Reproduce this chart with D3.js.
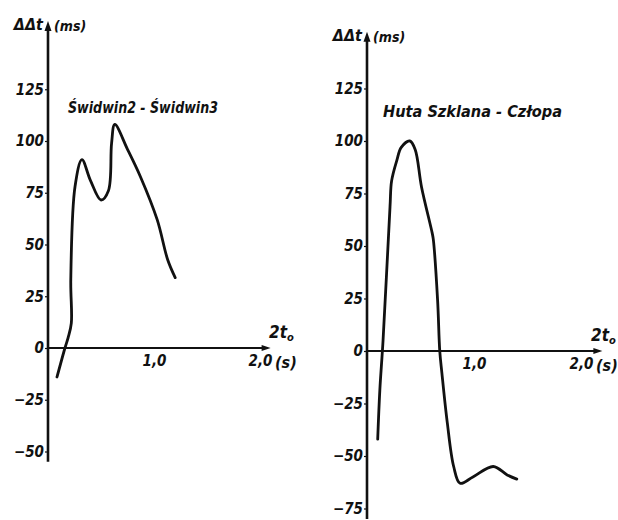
<!DOCTYPE html>
<html>
<head>
<meta charset="utf-8">
<script src="https://cdn.jsdelivr.net/npm/d3@7"></script>
<style>
  body { margin: 0; background: #fff; }
  svg text { font-family: "DejaVu Sans Condensed", "Liberation Sans Narrow", "DejaVu Sans", sans-serif; font-style: italic; fill: #111; }
</style>
</head>
<body>
<svg id="chart" width="618" height="520"></svg>
<script>
// values (time in s, delta in ms)
var leftTitle = "Świdwin2 - Świdwin3";
var rightTitle = "Huta Szklana - Człopa";
var leftTicksY = [125, 100, 75, 50, 25, 0, -25, -50];
var rightTicksY = [125, 100, 75, 50, 25, 0, -25, -50, -75];
var ticksX = [1.0, 2.0];
var tickLabelsX = ["1,0", "2,0"];

var leftT = [0.085, 0.16, 0.19, 0.22, 0.215, 0.255, 0.32, 0.40, 0.50, 0.57, 0.60, 0.63, 0.75, 0.87, 1.03, 1.13, 1.20];
var leftD = [-14, 0, 5, 12, 33, 78, 91, 81, 71.5, 76, 99, 108, 96, 83, 62, 42.5, 34];

var rightT = [0.10, 0.12, 0.15, 0.215, 0.23, 0.28, 0.32, 0.40, 0.45, 0.51, 0.61, 0.62, 0.66, 0.68, 0.70, 0.75, 0.81, 0.87, 0.99, 1.18, 1.31, 1.40];
var rightD = [-42, -18.6, 5, 68.6, 81, 91, 97, 100, 96, 78, 56, 53, 24, 0, -10.5, -34, -55, -63, -60, -55, -59, -61];

function main() {
  var svg = d3.select("#chart");

  function drawPanel(p) {
    var x = d3.scaleLinear().domain([0, 2]).range([p.x0, p.x0 + 2 * p.pxPerS]);
    var y = d3.scaleLinear().domain([0, 100]).range([p.y0, p.y0 - 100 * p.pxPerMs]);
    var g = svg.append("g");

    // y axis with ticks and labels
    var yAxis = g.append("g")
      .attr("transform", `translate(${p.x0},0)`)
      .call(d3.axisLeft(y).tickValues(p.ticksY).tickSize(3).tickPadding(1));
    yAxis.select(".domain").remove();
    yAxis.selectAll("line").attr("stroke", "#111").attr("stroke-width", 1.2);
    yAxis.selectAll("text").attr("font-size", 15).attr("font-weight", "bold").attr("fill", "#111");

    g.append("line")
      .attr("x1", p.x0).attr("x2", p.x0)
      .attr("y1", y(p.yBottom)).attr("y2", y(p.yTop) + 6)
      .attr("stroke", "#111").attr("stroke-width", 2.6);
    g.append("path")
      .attr("d", `M${p.x0 - 3.5},${y(p.yTop) + 10} L${p.x0},${y(p.yTop)} L${p.x0 + 3.5},${y(p.yTop) + 10} Z`)
      .attr("fill", "#111");

    // x axis
    var xAxis = g.append("g")
      .attr("transform", `translate(0,${p.y0})`)
      .call(d3.axisBottom(x).tickValues(ticksX).tickSize(0).tickPadding(7)
        .tickFormat((d, i) => tickLabelsX[i]));
    xAxis.select(".domain").remove();
    xAxis.selectAll("text").attr("font-size", 15).attr("font-weight", "bold").attr("fill", "#111");

    g.append("line")
      .attr("x1", p.x0).attr("x2", x(p.xEnd) - 4)
      .attr("y1", p.y0).attr("y2", p.y0)
      .attr("stroke", "#111").attr("stroke-width", 2.2);
    g.append("path")
      .attr("d", `M${x(p.xEnd) - 9},${p.y0 - 3} L${x(p.xEnd)},${p.y0} L${x(p.xEnd) - 9},${p.y0 + 3} Z`)
      .attr("fill", "#111");

    // axis names
    g.append("text").attr("x", p.x0 - 5).attr("y", y(p.yTop) + 9)
      .attr("text-anchor", "end").attr("font-size", 16).attr("font-weight", "bold").text("ΔΔt");
    g.append("text").attr("x", p.x0 + 6).attr("y", y(p.yTop) + 10)
      .attr("font-size", 14).attr("font-weight", "bold").text("(ms)");
    var t0 = g.append("text").attr("x", p.t0X).attr("y", p.y0 - 10)
      .attr("font-size", 17).attr("font-weight", "bold").text("2t");
    t0.append("tspan").attr("dy", 3).attr("font-size", 11).text("o");
    g.append("text").attr("x", x(2.0) + 15).attr("y", p.y0 + 20)
      .attr("font-size", 16).attr("font-weight", "bold").text("(s)");

    // title
    g.append("text").attr("x", p.titleX).attr("y", p.titleY)
      .attr("font-size", 15).attr("font-weight", "bold")
      .attr("textLength", p.titleW).attr("lengthAdjust", "spacingAndGlyphs")
      .text(p.title);

    // curve
    var line = d3.line()
      .x((d) => x(d[0]))
      .y((d) => y(d[1]))
      .curve(d3.curveCatmullRom.alpha(0.5));
    g.append("path")
      .datum(d3.zip(p.t, p.d))
      .attr("d", line)
      .attr("fill", "none")
      .attr("stroke", "#111")
      .attr("stroke-width", 2.8)
      .attr("stroke-linejoin", "round")
      .attr("stroke-linecap", "round");
  }

  drawPanel({
    x0: 48, y0: 348, pxPerS: 106, pxPerMs: 2.07,
    ticksY: leftTicksY, yTop: 158, yBottom: -55, xEnd: 2.1, t0X: 269,
    title: leftTitle, titleX: 68, titleY: 113, titleW: 150,
    t: leftT, d: leftD
  });
  drawPanel({
    x0: 367, y0: 351, pxPerS: 107, pxPerMs: 2.1,
    ticksY: rightTicksY, yTop: 152, yBottom: -80, xEnd: 2.2, t0X: 591,
    title: rightTitle, titleX: 383, titleY: 117, titleW: 179,
    t: rightT, d: rightD
  });
}
main();
</script>
</body>
</html>
